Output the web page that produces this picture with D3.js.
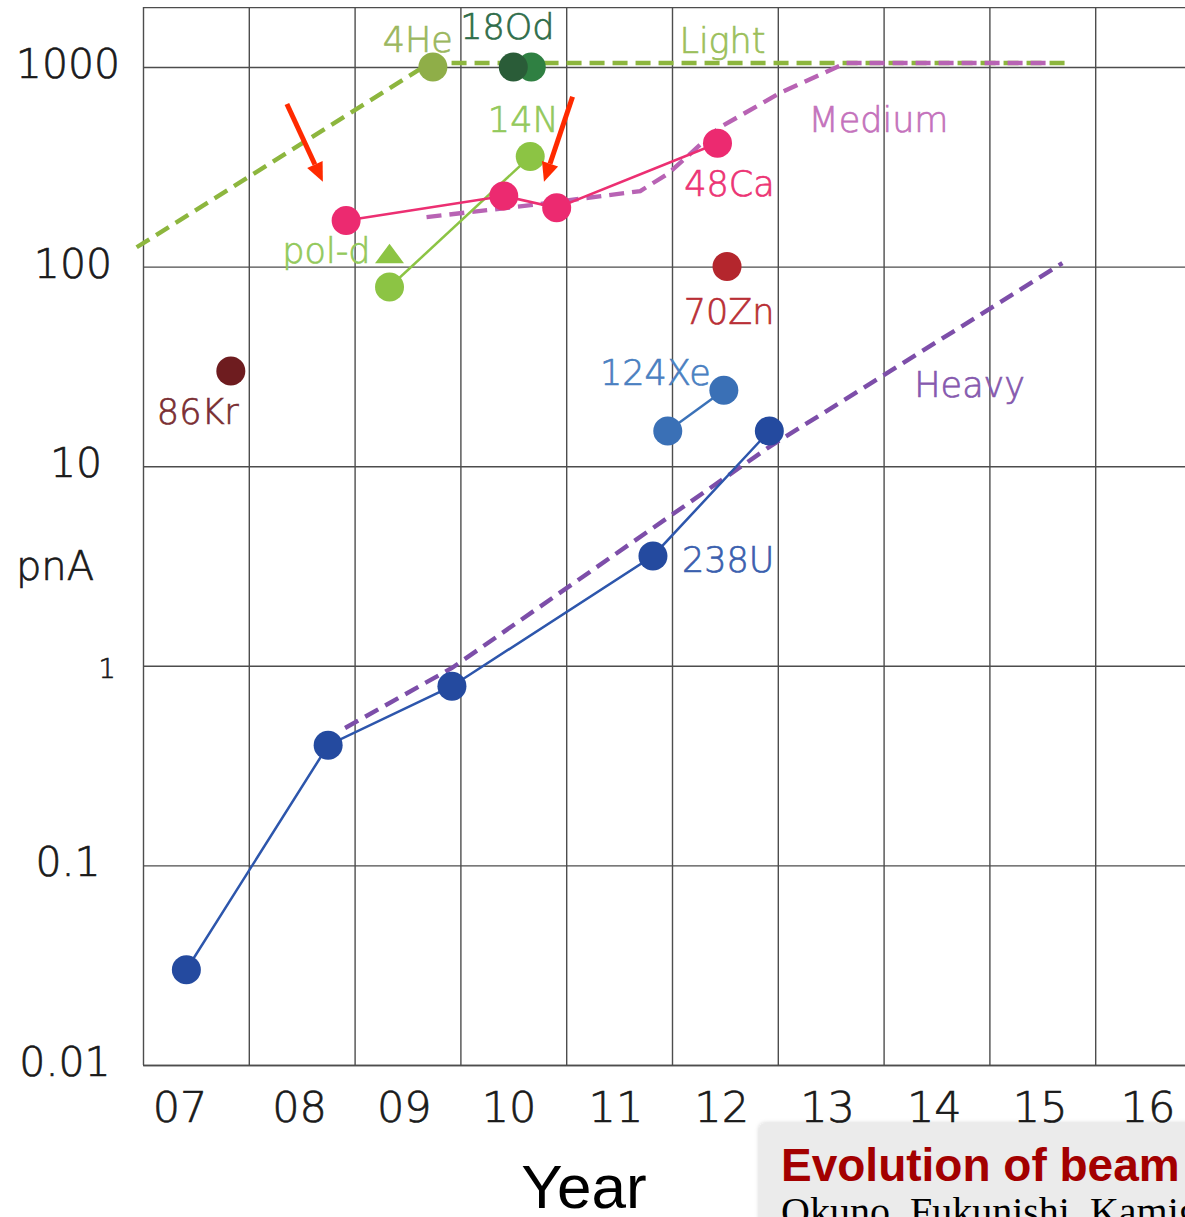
<!DOCTYPE html>
<html>
<head>
<meta charset="utf-8">
<script src="https://cdn.jsdelivr.net/npm/d3@7"></script>
<style>
  html, body { margin: 0; padding: 0; background: #ffffff; overflow: hidden; }
  svg { display: block; }
</style>
</head>
<body>
<svg id="chart" width="1185" height="1217"></svg>
<script>
// ---- Axis definitions ----
const gridYears = [2007, 2008, 2009, 2010, 2011, 2012, 2013, 2014, 2015, 2016];
const yearTickLabels = ["07", "08", "09", "10", "11", "12", "13", "14", "15", "16"];
const yearTickPositions = [2007.35, 2008.48, 2009.47, 2010.46, 2011.47, 2012.47, 2013.47, 2014.48, 2015.48, 2016.5];
const pnaTicks = [1000, 100, 10, 1, 0.1, 0.01];
const pnaTickLabels = ["1000", "100", "10", "1", "0.1", "0.01"];

// ---- Beam intensity records (pnA) by year ----
const u238Years = [2007.41, 2008.75, 2009.92, 2011.82, 2012.92];
const u238Values = [0.03, 0.4, 0.79, 3.55, 15];
const xe124Years = [2011.96, 2012.49];
const xe124Values = [15, 24];
const kr86Years = [2007.83];
const kr86Values = [30];
const zn70Years = [2012.52];
const zn70Values = [100];
const ca48Years = [2008.92, 2010.41, 2010.91, 2012.43];
const ca48Values = [170, 226, 197, 415];
const n14Years = [2009.33, 2010.66];
const n14Values = [79, 356];
const poldYears = [2009.33];
const poldValues = [116];
const he4Years = [2009.74];
const he4Values = [1000];
const o18dYears = [2010.67, 2010.50];
const o18dValues = [1000, 1000];

// ---- Target curves ----
const lightYears = [2006.94, 2009.71, 2015.72];
const lightValues = [125, 1047, 1047];
const mediumYears = [2009.68, 2010.69, 2011.70, 2011.97, 2012.44, 2013.02, 2013.64, 2015.58];
const mediumValues = [177, 204, 239, 294, 494, 741, 1047, 1047];
const heavyYears = [2008.91, 2009.92, 2012.92, 2015.69];
const heavyValues = [0.488, 0.975, 12.5, 104];

// ---- Highlight arrows (from -> to, in year / pnA) ----
const arrowFromYears = [2008.36, 2011.06];
const arrowFromValues = [653, 710];
const arrowToYears = [2008.70, 2010.79];
const arrowToValues = [266, 266];

// ---- Styles ----
const FONT = "'DejaVu Sans ExtraLight', 'DejaVu Sans', 'Noto Sans', sans-serif";
const FONT_WEIGHT = 300;
const TEXT_STROKE = 0.7;
const pointRadius = 14.5;

const curveStyles = [
  { name: "Light",  years: lightYears,  values: lightValues,  color: "#8db63e", label: "#9cbf5c", labelYear: 2012.07, labelValue: 1175 },
  { name: "Medium", years: mediumYears, values: mediumValues, color: "#b863b4", label: "#c472bc", labelYear: 2013.29, labelValue: 474 },
  { name: "Heavy",  years: heavyYears,  values: heavyValues,  color: "#7d4ea9", label: "#8659ae", labelYear: 2014.29, labelValue: 22.3 }
];

const beamSeries = [
  { name: "86Kr",  years: kr86Years,  values: kr86Values,  colors: ["#6e1c1f"], line: null, label: "#7a2e33",
    at: 0, dx: -33, dy: 53, anchor: "middle" },
  { name: "70Zn",  years: zn70Years,  values: zn70Values,  colors: ["#b4262d"], line: null, label: "#b92f36",
    at: 0, dx: 2, dy: 57, anchor: "middle" },
  { name: "238U",  years: u238Years,  values: u238Values,  colors: ["#244a9f"], line: "#2d56ac", label: "#3a5fae",
    at: 3, dx: 29, dy: 16, anchor: "start" },
  { name: "124Xe", years: xe124Years, values: xe124Values, colors: ["#3a70b6"], line: "#3b72b8", label: "#4a80c1",
    at: 1, dx: -13, dy: -5, anchor: "end" },
  { name: "14N",   years: n14Years,   values: n14Values,   colors: ["#8cc444"], line: "#8cc444", label: "#93c95c",
    at: 1, dx: -7, dy: -25, anchor: "middle" },
  { name: "48Ca",  years: ca48Years,  values: ca48Values,  colors: ["#ec2a70"], line: "#ec2f72", label: "#ec3474",
    at: 3, dx: 12, dy: 53, anchor: "middle" },
  { name: "4He",   years: he4Years,   values: he4Values,   colors: ["#8fae48"], line: null, label: "#9bb75f",
    at: 0, dx: 20, dy: -15, anchor: "end" },
  { name: "18Od",  years: o18dYears,  values: o18dValues,  colors: ["#2f8042", "#2a5c38"], line: null, label: "#2f6d4a",
    at: 1, dx: -6, dy: -28, anchor: "middle" }
];

// ---- Scales ----
const x = d3.scaleLinear().domain([2007, 2017]).range([143, 1201]);
const y = d3.scaleLog().domain([0.01, 1000]).range([1065, 67]);
const yTopValue = Math.pow(10, 3.3);
const plotTop = y(yTopValue);
const plotBottom = y(0.01);

const svg = d3.select("#chart");

// thin geometric lettering, slightly filled out with a stroke of its own colour
function lightText(sel, color) {
  return sel
    .attr("font-family", FONT)
    .attr("font-weight", FONT_WEIGHT)
    .attr("fill", color)
    .attr("stroke", color)
    .attr("stroke-width", TEXT_STROKE);
}

const defs = svg.append("defs");
const shadow = defs.append("filter").attr("id", "boxShadow")
  .attr("x", "-5%").attr("y", "-20%").attr("width", "110%").attr("height", "140%");
shadow.append("feDropShadow").attr("dx", 0).attr("dy", 0).attr("stdDeviation", 2)
  .attr("flood-color", "#000").attr("flood-opacity", 0.18);

// ---- Grid (drawn with d3 axes) ----
const gridColor = "#4d4d4d";
const vGrid = svg.append("g")
  .attr("transform", `translate(0,${plotBottom})`)
  .call(d3.axisBottom(x).tickValues(gridYears).tickSize(-(plotBottom - plotTop)).tickSizeOuter(0).tickFormat(""));
vGrid.select(".domain").attr("stroke", gridColor).attr("stroke-width", 1.6);
vGrid.selectAll(".tick line").attr("stroke", gridColor).attr("stroke-width", 1.4);

const hGrid = svg.append("g")
  .attr("transform", `translate(${x(2007)},0)`)
  .call(d3.axisRight(y).tickValues(pnaTicks.concat([yTopValue])).tickSize(1185 - x(2007)).tickSizeOuter(0).tickFormat(""));
hGrid.select(".domain").remove();
hGrid.selectAll(".tick line").attr("stroke", gridColor).attr("stroke-width", 1.4);

// ---- Tick labels ----
const yLabelCenters = [68, 73, 76, 107, 68, 65];
svg.append("g").selectAll("text")
  .data(pnaTicks)
  .join("text")
  .attr("x", (d, i) => yLabelCenters[i])
  .attr("y", d => y(d) + (d === 1 ? 12 : 11))
  .attr("text-anchor", "middle")
  .attr("font-size", d => d === 1 ? 27 : 41)
  .call(lightText, "#1a1a1a")
  .text((d, i) => pnaTickLabels[i]);

svg.append("g").selectAll("text")
  .data(yearTickPositions)
  .join("text")
  .attr("x", d => x(d))
  .attr("y", 1122)
  .attr("text-anchor", "middle")
  .attr("font-size", 43)
  .call(lightText, "#1a1a1a")
  .text((d, i) => yearTickLabels[i]);

svg.append("text")
  .attr("x", 55).attr("y", 580)
  .attr("text-anchor", "middle")
  .attr("font-size", 40)
  .call(lightText, "#1a1a1a")
  .text("pnA");

svg.append("text")
  .attr("x", 584).attr("y", 1208)
  .attr("text-anchor", "middle")
  .attr("font-family", "'Liberation Sans', Arial, sans-serif")
  .attr("font-size", 62)
  .attr("fill", "#000")
  .text("Year");

// ---- Target curves (dashed) ----
const lineGen = d3.line().x(d => x(d[0])).y(d => y(d[1]));
const curveLayer = svg.append("g");
curveStyles.forEach(c => {
  const pts = c.years.map((yr, i) => [yr, c.values[i]]);
  curveLayer.append("path")
    .attr("d", lineGen(pts))
    .attr("fill", "none")
    .attr("stroke", c.color)
    .attr("stroke-width", 4.4)
    .attr("stroke-dasharray", "15 8");
  svg.append("text")
    .attr("x", x(c.labelYear)).attr("y", y(c.labelValue))
    .attr("font-size", 35)
    .call(lightText, c.label)
    .text(c.name);
});

// ---- Beam series lines ----
const seriesLineLayer = svg.append("g");
beamSeries.filter(s => s.line).forEach(s => {
  const pts = s.years.map((yr, i) => [yr, s.values[i]]);
  seriesLineLayer.append("path")
    .attr("d", lineGen(pts))
    .attr("fill", "none")
    .attr("stroke", s.line)
    .attr("stroke-width", 2.5);
});

// ---- Beam series points and labels ----
const pointLayer = svg.append("g");
beamSeries.forEach(s => {
  pointLayer.selectAll(null)
    .data(s.years.map((yr, i) => ({ yr, v: s.values[i], c: s.colors[i % s.colors.length] })))
    .join("circle")
    .attr("cx", d => x(d.yr))
    .attr("cy", d => y(d.v))
    .attr("r", pointRadius)
    .attr("fill", d => d.c);
  svg.append("text")
    .attr("x", x(s.years[s.at]) + s.dx)
    .attr("y", y(s.values[s.at]) + s.dy)
    .attr("text-anchor", s.anchor)
    .attr("font-size", 35)
    .call(lightText, s.label)
    .text(s.name);
});

// polarized deuteron marker
poldYears.forEach((yr, i) => {
  pointLayer.append("path")
    .attr("transform", `translate(${x(yr)},${y(poldValues[i])})`)
    .attr("d", "M0,-10L14.5,9.5L-14.5,9.5Z")
    .attr("fill", "#8cc444");
  svg.append("text")
    .attr("x", x(yr) - 19)
    .attr("y", y(poldValues[i]) + 9)
    .attr("text-anchor", "end")
    .attr("font-size", 35)
    .call(lightText, "#93c95c")
    .text("pol-d");
});

// ---- Red arrows ----
const arrowLayer = svg.append("g");
arrowFromYears.forEach((yr, i) => {
  const x0 = x(yr), y0 = y(arrowFromValues[i]);
  const x1 = x(arrowToYears[i]), y1 = y(arrowToValues[i]);
  const ang = Math.atan2(y1 - y0, x1 - x0);
  const headLen = 19, headHalf = 8.5;
  const bx = x1 - headLen * Math.cos(ang), by = y1 - headLen * Math.sin(ang);
  arrowLayer.append("line")
    .attr("x1", x0).attr("y1", y0).attr("x2", bx).attr("y2", by)
    .attr("stroke", "#ff2a00").attr("stroke-width", 5);
  const px = -Math.sin(ang), py = Math.cos(ang);
  arrowLayer.append("path")
    .attr("d", `M${x1},${y1}L${bx + px * headHalf},${by + py * headHalf}L${bx - px * headHalf},${by - py * headHalf}Z`)
    .attr("fill", "#ff2a00");
});

// ---- Caption box ----
svg.append("rect")
  .attr("x", 759).attr("y", 1123)
  .attr("width", 460).attr("height", 120)
  .attr("rx", 6)
  .attr("fill", "#ebebeb")
  .attr("filter", "url(#boxShadow)");
svg.append("text")
  .attr("x", 781).attr("y", 1181)
  .attr("font-family", "'Liberation Sans', Arial, sans-serif")
  .attr("font-weight", "bold")
  .attr("font-size", 46)
  .attr("fill", "#a30000")
  .text("Evolution of beam intensities");
svg.append("text")
  .attr("x", 781).attr("y", 1225)
  .attr("font-family", "'Liberation Serif', 'Times New Roman', serif")
  .attr("font-size", 40)
  .attr("fill", "#000")
  .text("Okuno, Fukunishi, Kamigaito");
</script>
</body>
</html>
